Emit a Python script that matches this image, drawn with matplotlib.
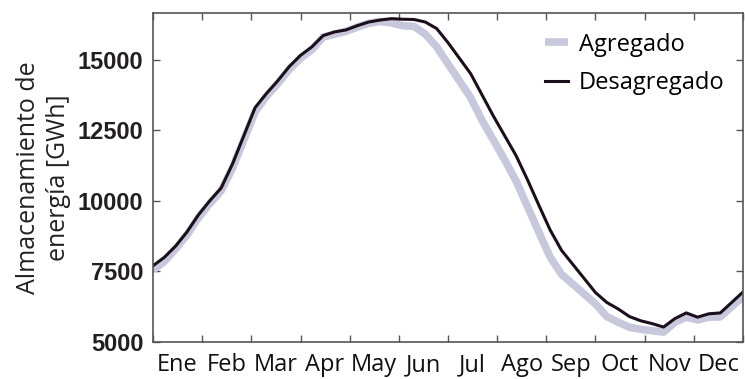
import numpy as np
import matplotlib.pyplot as plt

# weekly storage, 53 samples over the year
agregado = [7550, 7850, 8300, 8800, 9400, 9900, 10350, 11150, 12150, 13150,
            13700, 14150, 14650, 15050, 15350, 15800, 15900, 16000, 16150, 16280,
            16350, 16300, 16200, 16180, 15900, 15450, 14850, 14250, 13650, 12850,
            12150, 11450, 10700, 9800, 8900, 8010, 7400, 7050, 6700, 6350,
            5900, 5700, 5520, 5450, 5400, 5350, 5700, 5880, 5780, 5880,
            5890, 6250, 6600]
desagregado = [7700, 8000, 8400, 8900, 9500, 10000, 10450, 11300, 12300, 13300,
               13800, 14250, 14750, 15150, 15450, 15850, 15980, 16050, 16200, 16330,
               16400, 16450, 16430, 16420, 16330, 16100, 15600, 15050, 14500, 13750,
               13000, 12300, 11600, 10750, 9850, 8970, 8250, 7750, 7250, 6750,
               6400, 6170, 5900, 5750, 5650, 5530, 5830, 6030, 5880, 6000,
               6030, 6400, 6770]
meses = ['Ene', 'Feb', 'Mar', 'Apr', 'May', 'Jun', 'Jul', 'Ago', 'Sep', 'Oct', 'Nov', 'Dec']
yticks = [5000, 7500, 10000, 12500, 15000]

semanas = np.arange(len(desagregado)) * 12 / (len(desagregado) - 1)

fig = plt.figure(figsize=(7.45, 3.79), dpi=100)
ax = fig.add_axes([0.2054, 0.0976, 0.7919, 0.8681])

ax.plot(semanas, agregado, color='#c8c8dc', lw=5.5, solid_capstyle='butt', label='Agregado')
ax.plot(semanas, desagregado, color='#1c0f1c', lw=2.2, label='Desagregado')

ax.set_xlim(0, 12)
ax.set_ylim(5000, 16650)

# month ticks on the boundaries, names in the middle of each month
ax.set_xticks(np.arange(0, 13))
ax.set_xticklabels([])
ax.set_xticks(np.arange(12) + 0.5, minor=True)
ax.set_xticklabels(meses, minor=True, fontsize=17, family='Open Sans', color='#111111')
ax.tick_params(axis='x', which='minor', length=0, pad=8)

ax.set_yticks(yticks)
ax.set_yticklabels([str(v) for v in yticks], fontsize=17, fontweight='bold',
                   family='Liberation Sans', color='#231f20')
ax.tick_params(axis='both', which='major', direction='in', length=5, width=1,
               color='#555555', top=True, right=True, pad=7)

for s in ax.spines.values():
    s.set_color('#555555')
    s.set_linewidth(1.2)

ax.set_ylabel('Almacenamiento de\nenergía [GWh]', fontsize=18, family='Open Sans',
              color='#222222', linespacing=1.25, labelpad=5)

ax.legend(loc='upper right', bbox_to_anchor=(1.005, 1.005), frameon=False,
          prop={'family': 'Open Sans', 'size': 17}, handlelength=1.0,
          handletextpad=0.45, labelspacing=0.6)

fig.savefig('out.png', dpi=100)
